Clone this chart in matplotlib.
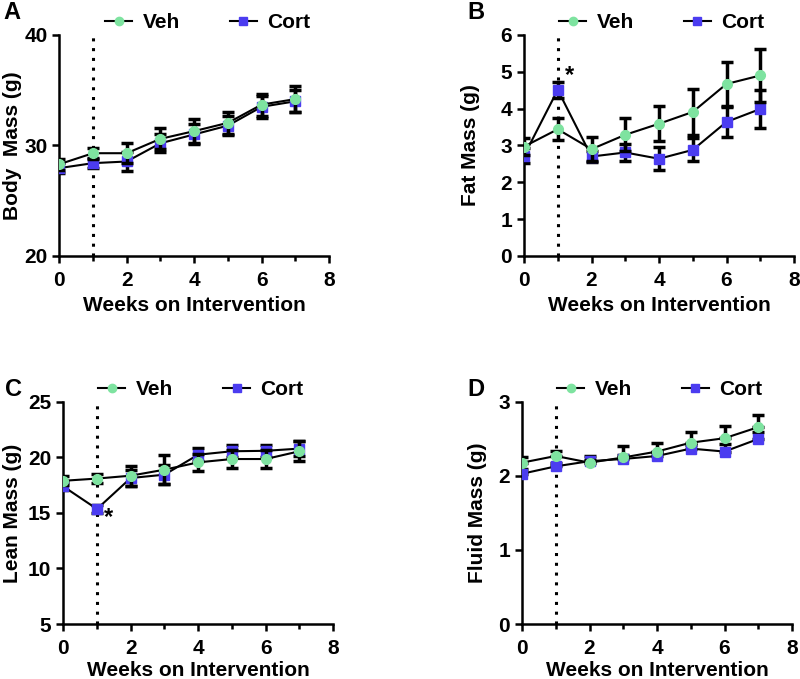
import numpy as np
import matplotlib
matplotlib.use('Agg')
import matplotlib.pyplot as plt
from matplotlib.lines import Line2D

plt.rcParams['font.family'] = ['Liberation Sans', 'DejaVu Sans']
plt.rcParams['font.weight'] = 'bold'

weeks = [0, 1, 2, 3, 4, 5, 6, 7]

# A - body mass
body_veh = [28.3, 29.3, 29.3, 30.6, 31.3, 32.05, 33.7, 34.2]
body_veh_err = [0.5, 0.5, 0.9, 0.95, 1.1, 1.0, 1.0, 1.2]
body_cort = [27.95, 28.4, 28.55, 30.2, 31.0, 31.8, 33.5, 34.0]
body_cort_err = [0.45, 0.45, 0.85, 0.8, 0.9, 0.85, 1.0, 1.0]

# B - fat mass
fat_veh = [2.97, 3.44, 2.9, 3.29, 3.59, 3.91, 4.67, 4.9]
fat_veh_err = [0.23, 0.3, 0.32, 0.45, 0.48, 0.62, 0.6, 0.72]
fat_cort = [2.72, 4.51, 2.7, 2.81, 2.64, 2.88, 3.64, 3.99]
fat_cort_err = [0.2, 0.22, 0.16, 0.22, 0.31, 0.31, 0.4, 0.52]

# C - lean mass
lean_veh = [17.9, 18.1, 18.36, 18.9, 19.56, 19.86, 19.86, 20.56]
lean_veh_err = [0.4, 0.4, 0.9, 1.3, 0.75, 0.8, 0.8, 0.9]
lean_cort = [17.4, 15.36, 18.15, 18.45, 20.25, 20.56, 20.6, 20.8]
lean_cort_err = [0.35, 0.4, 0.7, 0.85, 0.6, 0.55, 0.55, 0.65]

# D - fluid mass (upper error only)
fluid_veh = [2.18, 2.27, 2.18, 2.25, 2.33, 2.45, 2.51, 2.66]
fluid_veh_err = [0.07, 0.07, 0.04, 0.16, 0.12, 0.14, 0.16, 0.16]
fluid_cort = [2.03, 2.13, 2.2, 2.23, 2.27, 2.37, 2.33, 2.5]
fluid_cort_err = [0.06, 0.05, 0.07, 0.05, 0.05, 0.05, 0.1, 0.09]

veh_col = '#7ee3a0'
cort_col = '#4b3cf0'

fig = plt.figure(figsize=(8, 6.79), dpi=100)

# letter, axes rect, data..., ylim, yticks, ylabel, upper-only errors, star pos,
# legend x, letter x, ylabel x
panels = [
    ('A', [0.074, 0.623, 0.3375, 0.3255], body_veh, body_veh_err, body_cort, body_cort_err,
     (20, 40), [20, 30, 40], 'Body  Mass (g)', False, None, 0.55, -0.205, -0.137),
    ('B', [0.655, 0.623, 0.3375, 0.3255], fat_veh, fat_veh_err, fat_cort, fat_cort_err,
     (0, 6), [0, 1, 2, 3, 4, 5, 6], 'Fat Mass (g)', False, (1.36, 4.89), 0.51, -0.21, -0.163),
    ('C', [0.079, 0.081, 0.3375, 0.327], lean_veh, lean_veh_err, lean_cort, lean_cort_err,
     (5, 25), [5, 10, 15, 20, 25], 'Lean Mass (g)', False, (1.33, 14.6), 0.51, -0.215, -0.152),
    ('D', [0.6525, 0.081, 0.3375, 0.327], fluid_veh, fluid_veh_err, fluid_cort, fluid_cort_err,
     (0, 3), [0, 1, 2, 3], 'Fluid Mass (g)', True, None, 0.51, -0.204, -0.13),
]

for letter, pos, v, ve, c, ce, ylim, yt, ylab, upper, star, legx, letx, labx in panels:
    ax = fig.add_axes(pos)
    if upper:
        verr = [np.zeros(len(ve)), ve]
        cerr = [np.zeros(len(ce)), ce]
    else:
        verr = ve
        cerr = ce
    ax.axvline(1, color='black', ls=(0, (1, 2.2)), lw=2.2, zorder=1)
    ax.errorbar(weeks, c, yerr=cerr, color='black', lw=1.5, elinewidth=2.5,
                capsize=4, capthick=2.5, marker='s', ms=7, mfc=cort_col,
                mec=cort_col, zorder=3)
    ax.errorbar(weeks, v, yerr=verr, color='black', lw=1.5, elinewidth=2.5,
                capsize=4, capthick=2.5, marker='o', ms=7, mfc=veh_col,
                mec=veh_col, zorder=4)
    ax.set_xlim(0, 8)
    ax.set_ylim(*ylim)
    ax.set_xticks([0, 2, 4, 6, 8])
    ax.set_xticks(weeks, minor=True)
    ax.set_yticks(yt)
    ax.spines['top'].set_visible(False)
    ax.spines['right'].set_visible(False)
    ax.spines['left'].set_linewidth(1.8)
    ax.spines['bottom'].set_linewidth(1.8)
    ax.tick_params(which='major', width=1.8, length=5)
    ax.tick_params(which='minor', width=1.8, length=3.5)
    ax.tick_params(axis='x', pad=6)
    ax.tick_params(labelsize=15)
    lpad = 4 if letter in 'AB' else 2
    ax.set_xlabel('Weeks on Intervention', fontsize=15, fontweight='bold', labelpad=lpad)
    ax.set_ylabel(ylab, fontsize=15, fontweight='bold')
    ax.yaxis.set_label_coords(labx, 0.5)
    for lab in ax.get_xticklabels() + ax.get_yticklabels():
        lab.set_fontweight('bold')
    if star is not None:
        ax.text(star[0], star[1], '*', fontsize=17, fontweight='bold', ha='center', va='center')
    handles = [Line2D([], [], color='black', lw=1.5, marker='o', ms=6, mfc=veh_col, mec=veh_col),
               Line2D([], [], color='black', lw=1.5, marker='s', ms=6, mfc=cort_col, mec=cort_col)]
    ax.legend(handles, ['Veh', 'Cort'], loc='center', bbox_to_anchor=(legx, 1.055), ncol=2,
              frameon=False, fontsize=15, columnspacing=2.4, handlelength=1.3,
              handletextpad=0.5, borderpad=0, borderaxespad=0)
    lety = 1.1 if letter in 'AB' else 1.054
    ax.text(letx, lety, letter, transform=ax.transAxes,
            fontsize=17, fontweight='bold', ha='left', va='center')

fig.savefig('out.png', dpi=100)
